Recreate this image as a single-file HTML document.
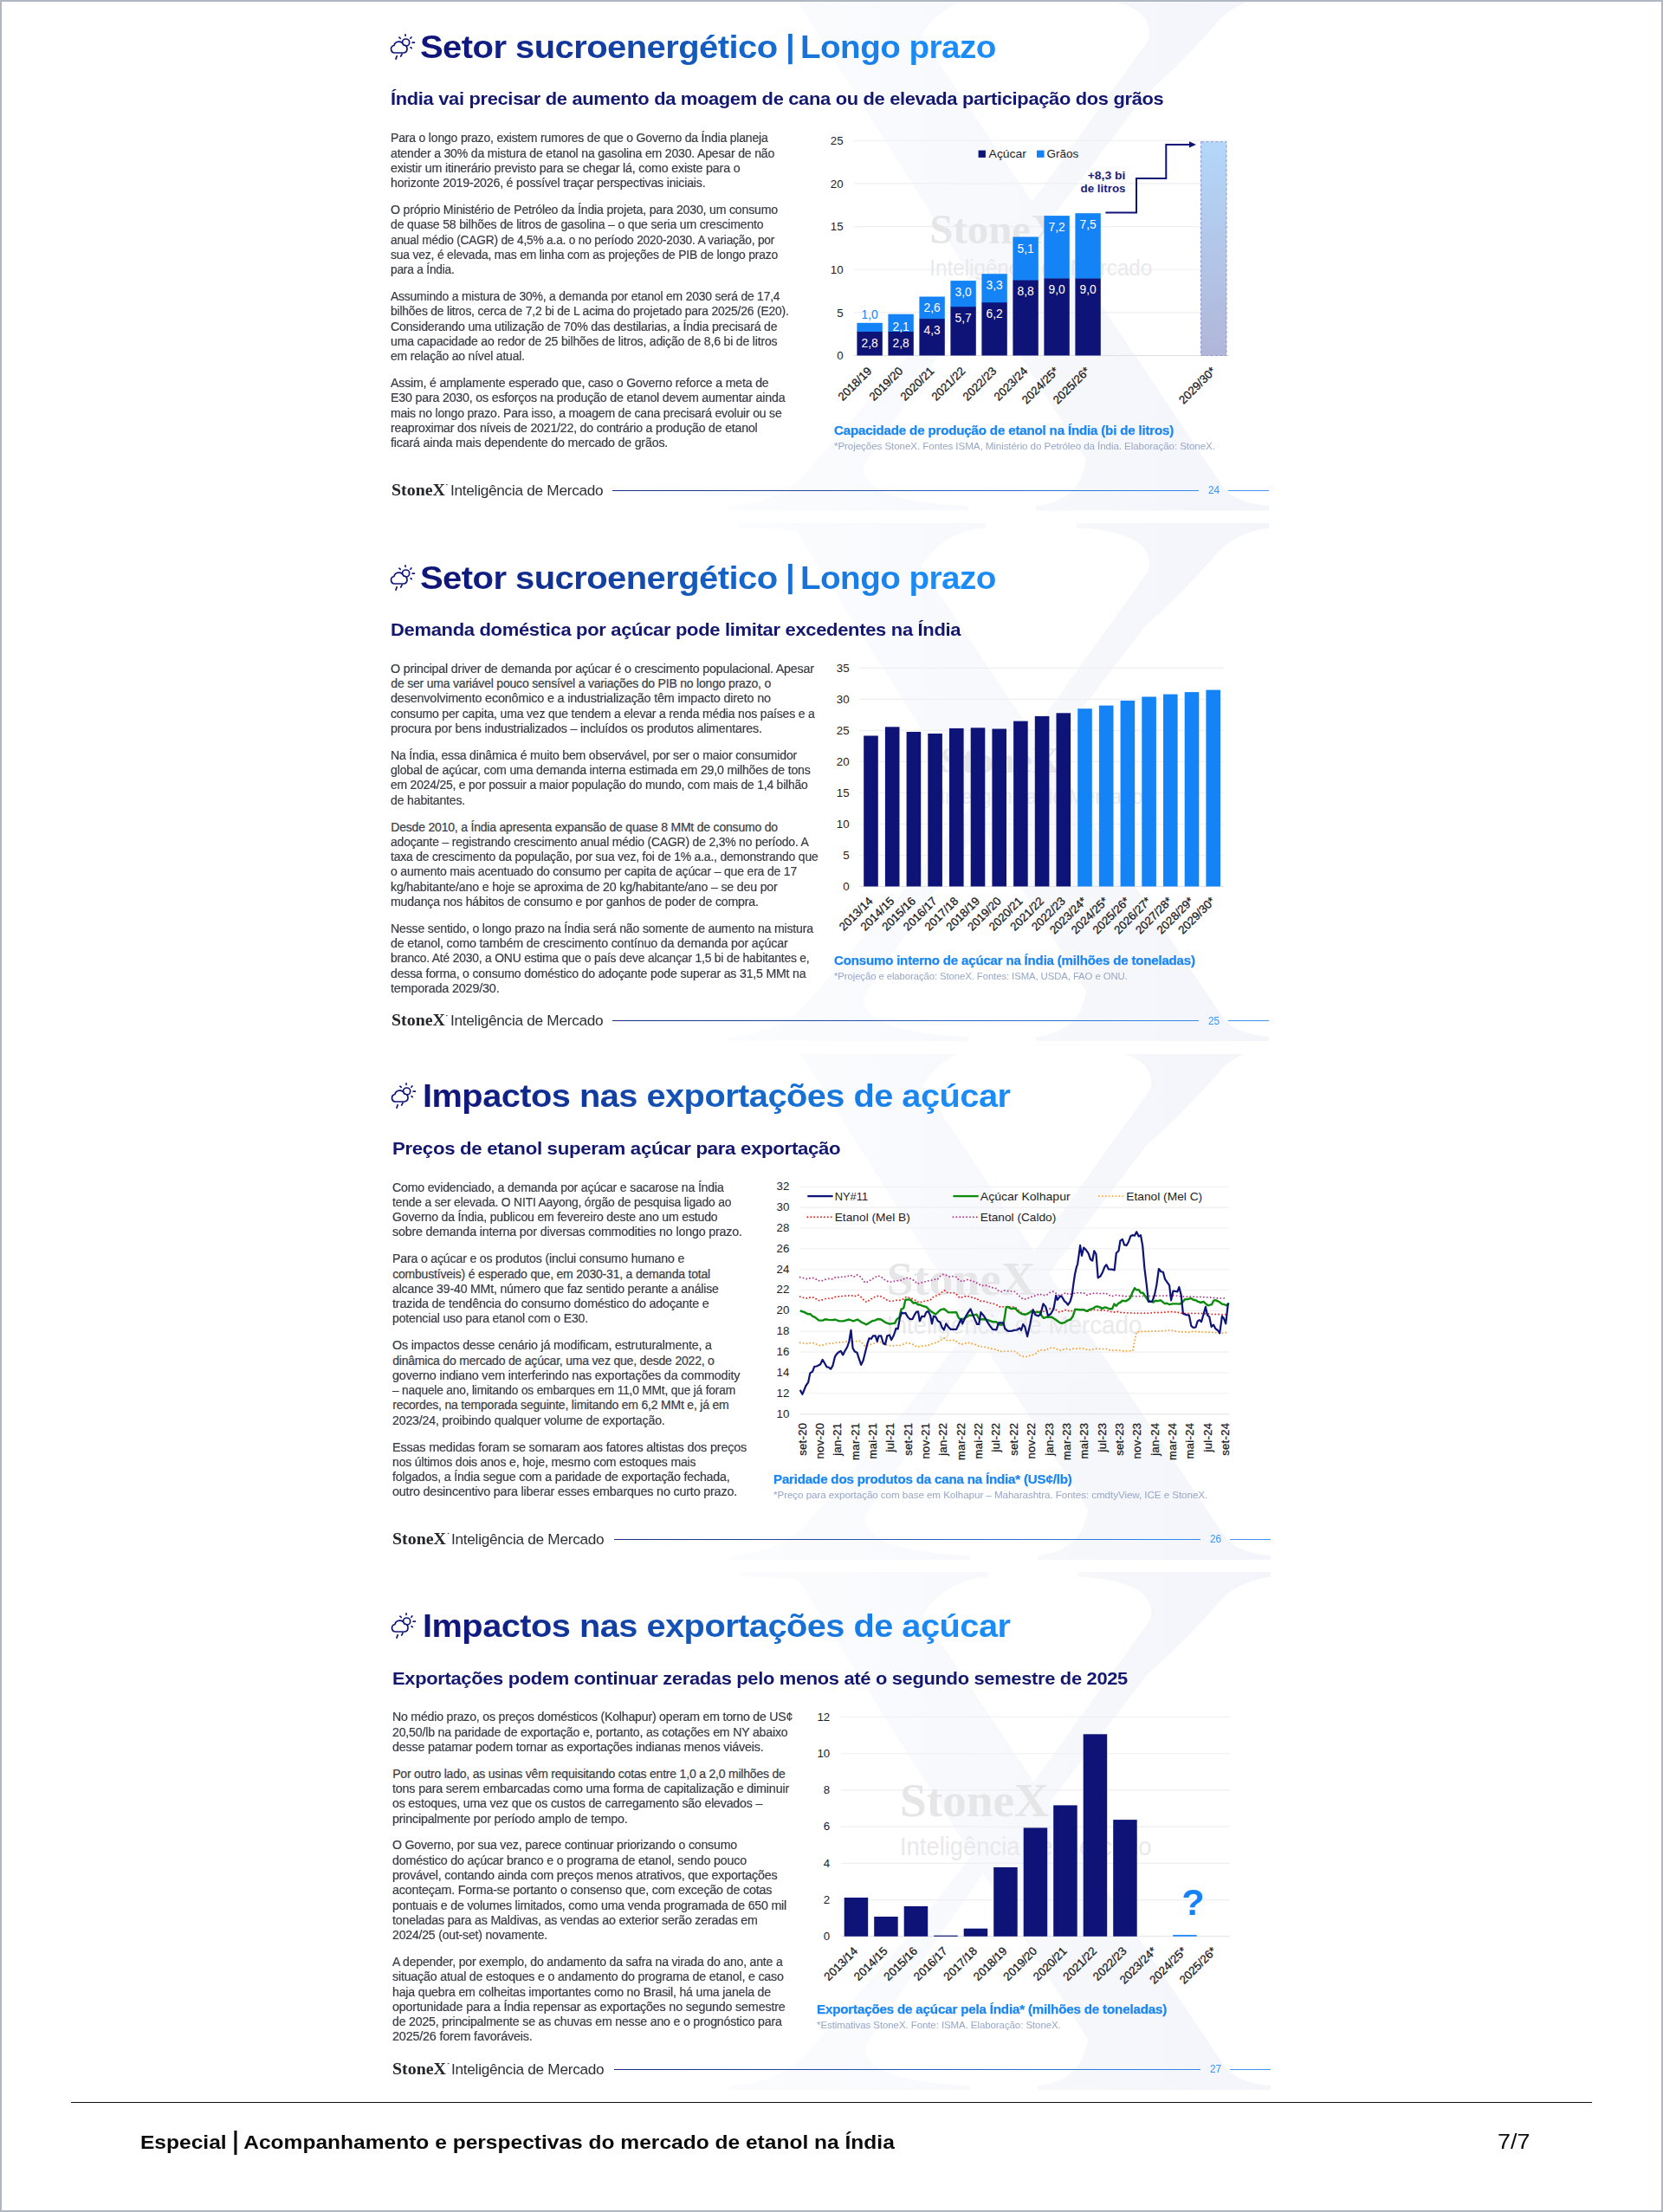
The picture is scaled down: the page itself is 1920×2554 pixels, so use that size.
<!DOCTYPE html>
<html lang="pt-BR"><head><meta charset="utf-8"><title>Especial | Acompanhamento e perspectivas do mercado de etanol na Índia</title>
<style>
html,body{margin:0;padding:0;background:#fff}
body{width:1920px;height:2554px;position:relative;overflow:hidden;font-family:"Liberation Sans",sans-serif}
#frame{position:absolute;left:0;top:0;width:1916px;height:2550px;border:2px solid #b0b7c3;pointer-events:none;z-index:5}
.abs{position:absolute}
.slide{position:absolute;overflow:hidden;background:#fff}
.inner{position:absolute;left:0;width:1064px;height:598.5px}
.t{position:absolute;white-space:nowrap;margin:0}
</style></head><body>
<div class="slide" style="left:401px;top:2px;width:1064px;height:588.2px"><div class="inner" style="top:-10.6px"><svg class="abs" style="left:0;top:0" width="1064" height="598.5" viewBox="0 0 1064 598.5">
<defs><linearGradient id="xg1" gradientUnits="userSpaceOnUse" x1="450" y1="0" x2="1064" y2="0"><stop offset="0" stop-color="#fbfcfe"/><stop offset="1" stop-color="#f4f5fa"/></linearGradient></defs>
<path fill="url(#xg1)" d="M452 0H738V5.5Q690 8 662 50L1009 568Q1022 590 1064 593V598.5H795V593Q846 588 853 540L519 10Q512 6 452 5.5ZM842 0H1064V5.5Q1020 12 1000 40Q960 85 921 119L800 278L780 250L789.8 243.3L925 55Q935 10 842 5.5ZM750 340L732 348.5L682 420L596 547Q592 588 717 593V598.5H440V593Q505 590 536 547L646 420L719 327Z"/></svg>
<svg class="abs" style="left:48.5px;top:46.6px" width="31" height="33" viewBox="0 0 31 33" fill="none" stroke="#0e1477" stroke-width="1.7" stroke-linecap="round" stroke-linejoin="round">
<circle cx="18.6" cy="11.1" r="4.1"/>
<path d="M18.05 1.9V3.3M10.9 5.2l1.4 1.1M24.9 5l-1 1.2M26.2 11.2h2.2M24.1 16.7l1.1 1"/>
<path d="M5.8 23a4.3 4.3 0 0 1-.9-8.5a5.7 5.7 0 0 1 10.9-.6a4.6 4.6 0 0 1 .5 9.1z" fill="#fff"/>
<path d="M8.2 26.7l-1.2 3.4M14.1 24.4l-1.4 2.7"/>
</svg>
<div class="t" style="left:84.20px;top:40.65px;font-size:37.0px;line-height:46.25px;color:#3b3e46;font-weight:700;letter-spacing:-0.5px;transform:scaleX(1.0796);transform-origin:0 0;background:linear-gradient(90deg,#10167a 0.0%,#10167a 0.4%,#10167a 10.0%,#1565c8 88.6%,#166dd2 100.0%);-webkit-background-clip:text;background-clip:text;color:transparent;-webkit-text-fill-color:transparent;">Setor sucroenergético</div>
<div class="t" style="left:506.30px;top:39.15px;font-size:37.0px;line-height:46.25px;color:#3b3e46;font-weight:700;letter-spacing:-0.5px;background:linear-gradient(90deg,#176fd4 0.0%,#1770d5 100.0%);-webkit-background-clip:text;background-clip:text;color:transparent;-webkit-text-fill-color:transparent;">|</div>
<div class="t" style="left:523.20px;top:40.65px;font-size:37.0px;line-height:46.25px;color:#3b3e46;font-weight:700;letter-spacing:-0.5px;transform:scaleX(1.0435);transform-origin:0 0;background:linear-gradient(90deg,#1772d7 0.0%,#1b8cf6 64.2%,#1b8cf6 99.3%,#1b8cf6 100.0%);-webkit-background-clip:text;background-clip:text;color:transparent;-webkit-text-fill-color:transparent;">Longo prazo</div>
<div class="t" style="left:50.20px;top:110.98px;font-size:20.4px;line-height:25.5px;color:#13186e;font-weight:700;letter-spacing:-0.3px;transform:scaleX(1.0733);transform-origin:0 0;">Índia vai precisar de aumento da moagem de cana ou de elevada participação dos grãos</div>
<svg class="abs" style="left:0;top:0" width="1064" height="598.5" viewBox="0 0 1064 598.5" font-family="Liberation Sans, sans-serif"><path d="M584.5 419.5H1017.9" stroke="#e0e0e4" stroke-width="1.1"/><path d="M584.5 369.9H1017.9" stroke="#efeff2" stroke-width="1.1"/><path d="M584.5 320.2H1017.9" stroke="#efeff2" stroke-width="1.1"/><path d="M584.5 270.6H1017.9" stroke="#efeff2" stroke-width="1.1"/><path d="M584.5 220.9H1017.9" stroke="#efeff2" stroke-width="1.1"/><path d="M584.5 171.2H1017.9" stroke="#efeff2" stroke-width="1.1"/><text x="672.3" y="290.0" font-family="Liberation Serif, serif" font-weight="700" font-size="47.5" fill="#e6e6e9" textLength="152" lengthAdjust="spacingAndGlyphs">StoneX</text><text x="672.3" y="327.2" font-size="25.4" fill="#e9e9ec" textLength="257" lengthAdjust="spacingAndGlyphs">Inteligência de Mercado</text><rect x="588.4" y="391.7" width="29.4" height="27.8" fill="#0e1477"/><rect x="588.4" y="381.8" width="29.4" height="10.2" fill="#1383f5"/><text x="603.1" y="410.0" font-size="13.8" fill="#fff" text-anchor="middle">2,8</text><text x="603.1" y="376.6" font-size="13.8" fill="#1383f5" text-anchor="middle">1,0</text><text transform="translate(606.2 438.3) rotate(-45)" font-size="13.4" fill="#1c1c1e" stroke="#1c1c1e" stroke-width="0.28" text-anchor="end">2018/19</text><rect x="624.4" y="391.7" width="29.4" height="27.8" fill="#0e1477"/><rect x="624.4" y="371.7" width="29.4" height="20.3" fill="#1383f5"/><text x="639.1" y="410.0" font-size="13.8" fill="#fff" text-anchor="middle">2,8</text><text x="639.1" y="390.9" font-size="13.8" fill="#fff" text-anchor="middle">2,1</text><text transform="translate(642.2 438.3) rotate(-45)" font-size="13.4" fill="#1c1c1e" stroke="#1c1c1e" stroke-width="0.28" text-anchor="end">2019/20</text><rect x="660.4" y="376.8" width="29.4" height="42.7" fill="#0e1477"/><rect x="660.4" y="351.5" width="29.4" height="25.6" fill="#1383f5"/><text x="675.1" y="395.1" font-size="13.8" fill="#fff" text-anchor="middle">4,3</text><text x="675.1" y="369.1" font-size="13.8" fill="#fff" text-anchor="middle">2,6</text><text transform="translate(678.2 438.3) rotate(-45)" font-size="13.4" fill="#1c1c1e" stroke="#1c1c1e" stroke-width="0.28" text-anchor="end">2020/21</text><rect x="696.4" y="362.9" width="29.4" height="56.6" fill="#0e1477"/><rect x="696.4" y="333.1" width="29.4" height="30.1" fill="#1383f5"/><text x="711.1" y="381.2" font-size="13.8" fill="#fff" text-anchor="middle">5,7</text><text x="711.1" y="350.7" font-size="13.8" fill="#fff" text-anchor="middle">3,0</text><text transform="translate(714.2 438.3) rotate(-45)" font-size="13.4" fill="#1c1c1e" stroke="#1c1c1e" stroke-width="0.28" text-anchor="end">2021/22</text><rect x="732.4" y="357.9" width="29.4" height="61.6" fill="#0e1477"/><rect x="732.4" y="325.2" width="29.4" height="33.1" fill="#1383f5"/><text x="747.1" y="376.2" font-size="13.8" fill="#fff" text-anchor="middle">6,2</text><text x="747.1" y="342.8" font-size="13.8" fill="#fff" text-anchor="middle">3,3</text><text transform="translate(750.2 438.3) rotate(-45)" font-size="13.4" fill="#1c1c1e" stroke="#1c1c1e" stroke-width="0.28" text-anchor="end">2022/23</text><rect x="768.4" y="332.1" width="29.4" height="87.4" fill="#0e1477"/><rect x="768.4" y="282.5" width="29.4" height="49.9" fill="#1383f5"/><text x="783.1" y="350.4" font-size="13.8" fill="#fff" text-anchor="middle">8,8</text><text x="783.1" y="301.4" font-size="13.8" fill="#fff" text-anchor="middle">5,1</text><text transform="translate(786.2 438.3) rotate(-45)" font-size="13.4" fill="#1c1c1e" stroke="#1c1c1e" stroke-width="0.28" text-anchor="end">2023/24</text><rect x="804.4" y="330.1" width="29.4" height="89.4" fill="#0e1477"/><rect x="804.4" y="258.1" width="29.4" height="72.3" fill="#1383f5"/><text x="819.1" y="348.4" font-size="13.8" fill="#fff" text-anchor="middle">9,0</text><text x="819.1" y="275.7" font-size="13.8" fill="#fff" text-anchor="middle">7,2</text><text transform="translate(822.2 438.3) rotate(-45)" font-size="13.4" fill="#1c1c1e" stroke="#1c1c1e" stroke-width="0.28" text-anchor="end">2024/25*</text><rect x="840.4" y="330.1" width="29.4" height="89.4" fill="#0e1477"/><rect x="840.4" y="255.2" width="29.4" height="75.3" fill="#1383f5"/><text x="855.1" y="348.4" font-size="13.8" fill="#fff" text-anchor="middle">9,0</text><text x="855.1" y="272.8" font-size="13.8" fill="#fff" text-anchor="middle">7,5</text><text transform="translate(858.2 438.3) rotate(-45)" font-size="13.4" fill="#1c1c1e" stroke="#1c1c1e" stroke-width="0.28" text-anchor="end">2025/26*</text><defs><linearGradient id="pg" x1="0" y1="0" x2="0" y2="1"><stop offset="0" stop-color="#b3d7fa"/><stop offset="1" stop-color="#b1b6d9"/></linearGradient></defs><rect x="985.6" y="172.7" width="29.4" height="246.8" fill="url(#pg)" stroke="#8a9bd6" stroke-width="1" stroke-dasharray="3.5 2"/><text transform="translate(1003.4 438.3) rotate(-45)" font-size="13.4" fill="#1c1c1e" stroke="#1c1c1e" stroke-width="0.28" text-anchor="end">2029/30*</text><text x="572.6" y="424.3" font-size="13.3" fill="#1c1c1e" text-anchor="end">0</text><text x="572.6" y="374.6" font-size="13.3" fill="#1c1c1e" text-anchor="end">5</text><text x="572.6" y="325.0" font-size="13.3" fill="#1c1c1e" text-anchor="end">10</text><text x="572.6" y="275.3" font-size="13.3" fill="#1c1c1e" text-anchor="end">15</text><text x="572.6" y="225.7" font-size="13.3" fill="#1c1c1e" text-anchor="end">20</text><text x="572.6" y="176.0" font-size="13.3" fill="#1c1c1e" text-anchor="end">25</text><rect x="728.6" y="182.6" width="8.3" height="8.3" fill="#0e1477"/><text x="740.6" y="190.9" font-size="13" fill="#1c1c1e" textLength="43.4" lengthAdjust="spacingAndGlyphs">Açúcar</text><rect x="796" y="182.6" width="8.6" height="8.3" fill="#1383f5"/><text x="807.5" y="190.9" font-size="13" fill="#1c1c1e" textLength="36.8" lengthAdjust="spacingAndGlyphs">Grãos</text><text x="898.5" y="215.9" font-size="13" font-weight="700" fill="#1a1c7c" text-anchor="end" textLength="43.8" lengthAdjust="spacingAndGlyphs">+8,3 bi</text><text x="898.5" y="231.3" font-size="13" font-weight="700" fill="#1a1c7c" text-anchor="end" textLength="52" lengthAdjust="spacingAndGlyphs">de litros</text><path d="M875.4 254.4H911V215H945.3V175.9H973" fill="none" stroke="#0e1477" stroke-width="2"/><path d="M980 175.9l-8-3.6v7.2z" fill="#0e1477"/></svg>
<div class="t" style="left:50.30px;top:159.90px;font-size:14.0px;line-height:17.5px;color:#3b3e46;letter-spacing:-0.2px;transform:scaleX(1.0026);transform-origin:0 0;-webkit-text-stroke:0.22px #3b3e46;">Para o longo prazo, existem rumores de que o Governo da Índia planeja</div>
<div class="t" style="left:50.30px;top:177.20px;font-size:14.0px;line-height:17.5px;color:#3b3e46;letter-spacing:-0.2px;transform:scaleX(1.0071);transform-origin:0 0;-webkit-text-stroke:0.22px #3b3e46;">atender a 30% da mistura de etanol na gasolina em 2030. Apesar de não</div>
<div class="t" style="left:50.30px;top:194.50px;font-size:14.0px;line-height:17.5px;color:#3b3e46;letter-spacing:-0.2px;transform:scaleX(1.0215);transform-origin:0 0;-webkit-text-stroke:0.22px #3b3e46;">existir um itinerário previsto para se chegar lá, como existe para o</div>
<div class="t" style="left:50.30px;top:211.80px;font-size:14.0px;line-height:17.5px;color:#3b3e46;letter-spacing:-0.2px;transform:scaleX(1.0122);transform-origin:0 0;-webkit-text-stroke:0.22px #3b3e46;">horizonte 2019-2026, é possível traçar perspectivas iniciais.</div>
<div class="t" style="left:50.30px;top:242.60px;font-size:14.0px;line-height:17.5px;color:#3b3e46;letter-spacing:-0.2px;transform:scaleX(1.0103);transform-origin:0 0;-webkit-text-stroke:0.22px #3b3e46;">O próprio Ministério de Petróleo da Índia projeta, para 2030, um consumo</div>
<div class="t" style="left:50.30px;top:259.90px;font-size:14.0px;line-height:17.5px;color:#3b3e46;letter-spacing:-0.2px;transform:scaleX(1.0075);transform-origin:0 0;-webkit-text-stroke:0.22px #3b3e46;">de quase 58 bilhões de litros de gasolina – o que seria um crescimento</div>
<div class="t" style="left:50.30px;top:277.20px;font-size:14.0px;line-height:17.5px;color:#3b3e46;letter-spacing:-0.2px;transform:scaleX(0.9804);transform-origin:0 0;-webkit-text-stroke:0.22px #3b3e46;">anual médio (CAGR) de 4,5% a.a. o no período 2020-2030. A variação, por</div>
<div class="t" style="left:50.30px;top:294.50px;font-size:14.0px;line-height:17.5px;color:#3b3e46;letter-spacing:-0.2px;transform:scaleX(0.9942);transform-origin:0 0;-webkit-text-stroke:0.22px #3b3e46;">sua vez, é elevada, mas em linha com as projeções de PIB de longo prazo</div>
<div class="t" style="left:50.30px;top:311.80px;font-size:14.0px;line-height:17.5px;color:#3b3e46;letter-spacing:-0.2px;transform:scaleX(0.9783);transform-origin:0 0;-webkit-text-stroke:0.22px #3b3e46;">para a Índia.</div>
<div class="t" style="left:50.30px;top:342.60px;font-size:14.0px;line-height:17.5px;color:#3b3e46;letter-spacing:-0.2px;transform:scaleX(0.9934);transform-origin:0 0;-webkit-text-stroke:0.22px #3b3e46;">Assumindo a mistura de 30%, a demanda por etanol em 2030 será de 17,4</div>
<div class="t" style="left:50.30px;top:359.90px;font-size:14.0px;line-height:17.5px;color:#3b3e46;letter-spacing:-0.2px;transform:scaleX(0.9920);transform-origin:0 0;-webkit-text-stroke:0.22px #3b3e46;">bilhões de litros, cerca de 7,2 bi de L acima do projetado para 2025/26 (E20).</div>
<div class="t" style="left:50.30px;top:377.20px;font-size:14.0px;line-height:17.5px;color:#3b3e46;letter-spacing:-0.2px;transform:scaleX(1.0107);transform-origin:0 0;-webkit-text-stroke:0.22px #3b3e46;">Considerando uma utilização de 70% das destilarias, a Índia precisará de</div>
<div class="t" style="left:50.30px;top:394.50px;font-size:14.0px;line-height:17.5px;color:#3b3e46;letter-spacing:-0.2px;transform:scaleX(1.0067);transform-origin:0 0;-webkit-text-stroke:0.22px #3b3e46;">uma capacidade ao redor de 25 bilhões de litros, adição de 8,6 bi de litros</div>
<div class="t" style="left:50.30px;top:411.80px;font-size:14.0px;line-height:17.5px;color:#3b3e46;letter-spacing:-0.2px;transform:scaleX(0.9979);transform-origin:0 0;-webkit-text-stroke:0.22px #3b3e46;">em relação ao nível atual.</div>
<div class="t" style="left:50.30px;top:442.60px;font-size:14.0px;line-height:17.5px;color:#3b3e46;letter-spacing:-0.2px;transform:scaleX(1.0124);transform-origin:0 0;-webkit-text-stroke:0.22px #3b3e46;">Assim, é amplamente esperado que, caso o Governo reforce a meta de</div>
<div class="t" style="left:50.30px;top:459.90px;font-size:14.0px;line-height:17.5px;color:#3b3e46;letter-spacing:-0.2px;transform:scaleX(1.0171);transform-origin:0 0;-webkit-text-stroke:0.22px #3b3e46;">E30 para 2030, os esforços na produção de etanol devem aumentar ainda</div>
<div class="t" style="left:50.30px;top:477.20px;font-size:14.0px;line-height:17.5px;color:#3b3e46;letter-spacing:-0.2px;transform:scaleX(1.0029);transform-origin:0 0;-webkit-text-stroke:0.22px #3b3e46;">mais no longo prazo. Para isso, a moagem de cana precisará evoluir ou se</div>
<div class="t" style="left:50.30px;top:494.50px;font-size:14.0px;line-height:17.5px;color:#3b3e46;letter-spacing:-0.2px;transform:scaleX(1.0104);transform-origin:0 0;-webkit-text-stroke:0.22px #3b3e46;">reaproximar dos níveis de 2021/22, do contrário a produção de etanol</div>
<div class="t" style="left:50.30px;top:511.80px;font-size:14.0px;line-height:17.5px;color:#3b3e46;letter-spacing:-0.2px;transform:scaleX(1.0195);transform-origin:0 0;-webkit-text-stroke:0.22px #3b3e46;">ficará ainda mais dependente do mercado de grãos.</div>
<div class="t" style="left:561.80px;top:496.12px;font-size:14.8px;line-height:18.5px;color:#1c86f2;font-weight:700;letter-spacing:-0.2px;transform:scaleX(1.0250);transform-origin:0 0;-webkit-text-stroke:0.25px #1c86f2;">Capacidade de produção de etanol na Índia (bi de litros)</div>
<div class="t" style="left:561.80px;top:517.11px;font-size:10.9px;line-height:13.62px;color:#97a6c6;letter-spacing:-0.1px;transform:scaleX(1.0700);transform-origin:0 0;">*Projeções StoneX. Fontes ISMA, Ministério do Petróleo da Índia. Elaboração: StoneX.</div>
<div class="abs" style="left:306.4px;top:574.4px;width:676.5px;height:1px;background:linear-gradient(90deg,#1b2a86,#2f8cf0)"></div>
<div class="abs" style="left:1017.4px;top:574.4px;width:46.6px;height:1px;background:#3f95f0"></div>
<div class="t" style="left:50.60px;top:562.24px;font-size:19.6px;line-height:24.5px;color:#25262b;font-weight:700;font-family:'Liberation Serif',serif;transform:scaleX(1.0169);transform-origin:0 0;">StoneX</div>
<div class="t" style="left:113.20px;top:562.84px;font-size:9px;line-height:11.25px;color:#25262b;font-weight:700;font-family:'Liberation Serif',serif;">·</div>
<div class="t" style="left:118.70px;top:564.39px;font-size:17.2px;line-height:21.5px;color:#2e3036;letter-spacing:-0.3px;transform:scaleX(1.0046);transform-origin:0 0;">Inteligência de Mercado</div>
<div class="t" style="left:994.30px;top:567.66px;font-size:12.6px;line-height:15.75px;color:#3a92f2;transform:scaleX(0.9418);transform-origin:0 0;">24</div></div></div>
<div class="slide" style="left:401px;top:603.8px;width:1064px;height:598.7px"><div class="inner" style="top:0.2px"><svg class="abs" style="left:0;top:0" width="1064" height="598.5" viewBox="0 0 1064 598.5">
<defs><linearGradient id="xg2" gradientUnits="userSpaceOnUse" x1="450" y1="0" x2="1064" y2="0"><stop offset="0" stop-color="#fbfcfe"/><stop offset="1" stop-color="#f4f5fa"/></linearGradient></defs>
<path fill="url(#xg2)" d="M452 0H738V5.5Q690 8 662 50L1009 568Q1022 590 1064 593V598.5H795V593Q846 588 853 540L519 10Q512 6 452 5.5ZM842 0H1064V5.5Q1020 12 1000 40Q960 85 921 119L800 278L780 250L789.8 243.3L925 55Q935 10 842 5.5ZM750 340L732 348.5L682 420L596 547Q592 588 717 593V598.5H440V593Q505 590 536 547L646 420L719 327Z"/></svg>
<svg class="abs" style="left:48.5px;top:46.6px" width="31" height="33" viewBox="0 0 31 33" fill="none" stroke="#0e1477" stroke-width="1.7" stroke-linecap="round" stroke-linejoin="round">
<circle cx="18.6" cy="11.1" r="4.1"/>
<path d="M18.05 1.9V3.3M10.9 5.2l1.4 1.1M24.9 5l-1 1.2M26.2 11.2h2.2M24.1 16.7l1.1 1"/>
<path d="M5.8 23a4.3 4.3 0 0 1-.9-8.5a5.7 5.7 0 0 1 10.9-.6a4.6 4.6 0 0 1 .5 9.1z" fill="#fff"/>
<path d="M8.2 26.7l-1.2 3.4M14.1 24.4l-1.4 2.7"/>
</svg>
<div class="t" style="left:84.20px;top:40.65px;font-size:37.0px;line-height:46.25px;color:#3b3e46;font-weight:700;letter-spacing:-0.5px;transform:scaleX(1.0796);transform-origin:0 0;background:linear-gradient(90deg,#10167a 0.0%,#10167a 0.4%,#10167a 10.0%,#1565c8 88.6%,#166dd2 100.0%);-webkit-background-clip:text;background-clip:text;color:transparent;-webkit-text-fill-color:transparent;">Setor sucroenergético</div>
<div class="t" style="left:506.30px;top:39.15px;font-size:37.0px;line-height:46.25px;color:#3b3e46;font-weight:700;letter-spacing:-0.5px;background:linear-gradient(90deg,#176fd4 0.0%,#1770d5 100.0%);-webkit-background-clip:text;background-clip:text;color:transparent;-webkit-text-fill-color:transparent;">|</div>
<div class="t" style="left:523.20px;top:40.65px;font-size:37.0px;line-height:46.25px;color:#3b3e46;font-weight:700;letter-spacing:-0.5px;transform:scaleX(1.0435);transform-origin:0 0;background:linear-gradient(90deg,#1772d7 0.0%,#1b8cf6 64.2%,#1b8cf6 99.3%,#1b8cf6 100.0%);-webkit-background-clip:text;background-clip:text;color:transparent;-webkit-text-fill-color:transparent;">Longo prazo</div>
<div class="t" style="left:50.20px;top:110.98px;font-size:20.4px;line-height:25.5px;color:#13186e;font-weight:700;letter-spacing:-0.3px;transform:scaleX(1.0780);transform-origin:0 0;">Demanda doméstica por açúcar pode limitar excedentes na Índia</div>
<svg class="abs" style="left:0;top:0" width="1064" height="598.5" viewBox="0 0 1064 598.5" font-family="Liberation Sans, sans-serif"><path d="M591.4 419.5H1012" stroke="#e0e0e4" stroke-width="1.1"/><path d="M591.4 383.5H1012" stroke="#efeff2" stroke-width="1.1"/><path d="M591.4 347.5H1012" stroke="#efeff2" stroke-width="1.1"/><path d="M591.4 311.5H1012" stroke="#efeff2" stroke-width="1.1"/><path d="M591.4 275.4H1012" stroke="#efeff2" stroke-width="1.1"/><path d="M591.4 239.4H1012" stroke="#efeff2" stroke-width="1.1"/><path d="M591.4 203.4H1012" stroke="#efeff2" stroke-width="1.1"/><path d="M591.4 167.4H1012" stroke="#efeff2" stroke-width="1.1"/><text x="684.4" y="287.8" font-family="Liberation Serif, serif" font-weight="700" font-size="43.2" fill="#e6e6e9" textLength="138.4" lengthAdjust="spacingAndGlyphs">StoneX</text><text x="684.4" y="323.7" font-size="23.1" fill="#e9e9ec" textLength="234" lengthAdjust="spacingAndGlyphs">Inteligência de Mercado</text><rect x="596.2" y="245.5" width="16.6" height="174.0" fill="#0e1477"/><text transform="translate(607.5 437.3) rotate(-45)" font-size="13.4" fill="#1c1c1e" stroke="#1c1c1e" stroke-width="0.28" text-anchor="end">2013/14</text><rect x="620.9" y="235.3" width="16.6" height="184.2" fill="#0e1477"/><text transform="translate(632.2 437.3) rotate(-45)" font-size="13.4" fill="#1c1c1e" stroke="#1c1c1e" stroke-width="0.28" text-anchor="end">2014/15</text><rect x="645.6" y="241.0" width="16.6" height="178.5" fill="#0e1477"/><text transform="translate(656.9 437.3) rotate(-45)" font-size="13.4" fill="#1c1c1e" stroke="#1c1c1e" stroke-width="0.28" text-anchor="end">2015/16</text><rect x="670.3" y="243.0" width="16.6" height="176.5" fill="#0e1477"/><text transform="translate(681.6 437.3) rotate(-45)" font-size="13.4" fill="#1c1c1e" stroke="#1c1c1e" stroke-width="0.28" text-anchor="end">2016/17</text><rect x="695.0" y="236.9" width="16.6" height="182.6" fill="#0e1477"/><text transform="translate(706.3 437.3) rotate(-45)" font-size="13.4" fill="#1c1c1e" stroke="#1c1c1e" stroke-width="0.28" text-anchor="end">2017/18</text><rect x="719.7" y="236.3" width="16.6" height="183.2" fill="#0e1477"/><text transform="translate(731.0 437.3) rotate(-45)" font-size="13.4" fill="#1c1c1e" stroke="#1c1c1e" stroke-width="0.28" text-anchor="end">2018/19</text><rect x="744.4" y="237.5" width="16.6" height="182.0" fill="#0e1477"/><text transform="translate(755.7 437.3) rotate(-45)" font-size="13.4" fill="#1c1c1e" stroke="#1c1c1e" stroke-width="0.28" text-anchor="end">2019/20</text><rect x="769.1" y="228.6" width="16.6" height="190.9" fill="#0e1477"/><text transform="translate(780.4 437.3) rotate(-45)" font-size="13.4" fill="#1c1c1e" stroke="#1c1c1e" stroke-width="0.28" text-anchor="end">2020/21</text><rect x="793.8" y="222.9" width="16.6" height="196.6" fill="#0e1477"/><text transform="translate(805.1 437.3) rotate(-45)" font-size="13.4" fill="#1c1c1e" stroke="#1c1c1e" stroke-width="0.28" text-anchor="end">2021/22</text><rect x="818.5" y="219.3" width="16.6" height="200.2" fill="#0e1477"/><text transform="translate(829.8 437.3) rotate(-45)" font-size="13.4" fill="#1c1c1e" stroke="#1c1c1e" stroke-width="0.28" text-anchor="end">2022/23</text><rect x="843.2" y="214.2" width="16.6" height="205.3" fill="#1383f5"/><text transform="translate(854.5 437.3) rotate(-45)" font-size="13.4" fill="#1c1c1e" stroke="#1c1c1e" stroke-width="0.28" text-anchor="end">2023/24*</text><rect x="867.9" y="210.6" width="16.6" height="208.9" fill="#1383f5"/><text transform="translate(879.2 437.3) rotate(-45)" font-size="13.4" fill="#1c1c1e" stroke="#1c1c1e" stroke-width="0.28" text-anchor="end">2024/25*</text><rect x="892.6" y="204.9" width="16.6" height="214.6" fill="#1383f5"/><text transform="translate(903.9 437.3) rotate(-45)" font-size="13.4" fill="#1c1c1e" stroke="#1c1c1e" stroke-width="0.28" text-anchor="end">2025/26*</text><rect x="917.3" y="200.5" width="16.6" height="219.0" fill="#1383f5"/><text transform="translate(928.6 437.3) rotate(-45)" font-size="13.4" fill="#1c1c1e" stroke="#1c1c1e" stroke-width="0.28" text-anchor="end">2026/27*</text><rect x="942.0" y="197.6" width="16.6" height="221.9" fill="#1383f5"/><text transform="translate(953.3 437.3) rotate(-45)" font-size="13.4" fill="#1c1c1e" stroke="#1c1c1e" stroke-width="0.28" text-anchor="end">2027/28*</text><rect x="966.7" y="195.1" width="16.6" height="224.4" fill="#1383f5"/><text transform="translate(978.0 437.3) rotate(-45)" font-size="13.4" fill="#1c1c1e" stroke="#1c1c1e" stroke-width="0.28" text-anchor="end">2028/29*</text><rect x="991.4" y="192.6" width="16.6" height="226.9" fill="#1383f5"/><text transform="translate(1002.7 437.3) rotate(-45)" font-size="13.4" fill="#1c1c1e" stroke="#1c1c1e" stroke-width="0.28" text-anchor="end">2029/30*</text><text x="579.6" y="424.3" font-size="13.3" fill="#1c1c1e" text-anchor="end">0</text><text x="579.6" y="388.3" font-size="13.3" fill="#1c1c1e" text-anchor="end">5</text><text x="579.6" y="352.3" font-size="13.3" fill="#1c1c1e" text-anchor="end">10</text><text x="579.6" y="316.2" font-size="13.3" fill="#1c1c1e" text-anchor="end">15</text><text x="579.6" y="280.2" font-size="13.3" fill="#1c1c1e" text-anchor="end">20</text><text x="579.6" y="244.2" font-size="13.3" fill="#1c1c1e" text-anchor="end">25</text><text x="579.6" y="208.2" font-size="13.3" fill="#1c1c1e" text-anchor="end">30</text><text x="579.6" y="172.2" font-size="13.3" fill="#1c1c1e" text-anchor="end">35</text></svg>
<div class="t" style="left:50.30px;top:159.90px;font-size:14.0px;line-height:17.5px;color:#3b3e46;letter-spacing:-0.2px;transform:scaleX(1.0210);transform-origin:0 0;-webkit-text-stroke:0.22px #3b3e46;">O principal driver de demanda por açúcar é o crescimento populacional. Apesar</div>
<div class="t" style="left:50.30px;top:177.20px;font-size:14.0px;line-height:17.5px;color:#3b3e46;letter-spacing:-0.2px;-webkit-text-stroke:0.22px #3b3e46;">de ser uma variável pouco sensível a variações do PIB no longo prazo, o</div>
<div class="t" style="left:50.30px;top:194.50px;font-size:14.0px;line-height:17.5px;color:#3b3e46;letter-spacing:-0.2px;transform:scaleX(1.0317);transform-origin:0 0;-webkit-text-stroke:0.22px #3b3e46;">desenvolvimento econômico e a industrialização têm impacto direto no</div>
<div class="t" style="left:50.30px;top:211.80px;font-size:14.0px;line-height:17.5px;color:#3b3e46;letter-spacing:-0.2px;transform:scaleX(1.0044);transform-origin:0 0;-webkit-text-stroke:0.22px #3b3e46;">consumo per capita, uma vez que tendem a elevar a renda média nos países e a</div>
<div class="t" style="left:50.30px;top:229.10px;font-size:14.0px;line-height:17.5px;color:#3b3e46;letter-spacing:-0.2px;transform:scaleX(1.0203);transform-origin:0 0;-webkit-text-stroke:0.22px #3b3e46;">procura por bens industrializados – incluídos os produtos alimentares.</div>
<div class="t" style="left:50.30px;top:259.90px;font-size:14.0px;line-height:17.5px;color:#3b3e46;letter-spacing:-0.2px;transform:scaleX(1.0081);transform-origin:0 0;-webkit-text-stroke:0.22px #3b3e46;">Na Índia, essa dinâmica é muito bem observável, por ser o maior consumidor</div>
<div class="t" style="left:50.30px;top:277.20px;font-size:14.0px;line-height:17.5px;color:#3b3e46;letter-spacing:-0.2px;transform:scaleX(1.0127);transform-origin:0 0;-webkit-text-stroke:0.22px #3b3e46;">global de açúcar, com uma demanda interna estimada em 29,0 milhões de tons</div>
<div class="t" style="left:50.30px;top:294.50px;font-size:14.0px;line-height:17.5px;color:#3b3e46;letter-spacing:-0.2px;transform:scaleX(0.9941);transform-origin:0 0;-webkit-text-stroke:0.22px #3b3e46;">em 2024/25, e por possuir a maior população do mundo, com mais de 1,4 bilhão</div>
<div class="t" style="left:50.30px;top:311.80px;font-size:14.0px;line-height:17.5px;color:#3b3e46;letter-spacing:-0.2px;transform:scaleX(1.0109);transform-origin:0 0;-webkit-text-stroke:0.22px #3b3e46;">de habitantes.</div>
<div class="t" style="left:50.30px;top:342.60px;font-size:14.0px;line-height:17.5px;color:#3b3e46;letter-spacing:-0.2px;-webkit-text-stroke:0.22px #3b3e46;">Desde 2010, a Índia apresenta expansão de quase 8 MMt de consumo do</div>
<div class="t" style="left:50.30px;top:359.90px;font-size:14.0px;line-height:17.5px;color:#3b3e46;letter-spacing:-0.2px;transform:scaleX(0.9974);transform-origin:0 0;-webkit-text-stroke:0.22px #3b3e46;">adoçante – registrando crescimento anual médio (CAGR) de 2,3% no período. A</div>
<div class="t" style="left:50.30px;top:377.20px;font-size:14.0px;line-height:17.5px;color:#3b3e46;letter-spacing:-0.2px;transform:scaleX(0.9959);transform-origin:0 0;-webkit-text-stroke:0.22px #3b3e46;">taxa de crescimento da população, por sua vez, foi de 1% a.a., demonstrando que</div>
<div class="t" style="left:50.30px;top:394.50px;font-size:14.0px;line-height:17.5px;color:#3b3e46;letter-spacing:-0.2px;transform:scaleX(1.0037);transform-origin:0 0;-webkit-text-stroke:0.22px #3b3e46;">o aumento mais acentuado do consumo per capita de açúcar – que era de 17</div>
<div class="t" style="left:50.30px;top:411.80px;font-size:14.0px;line-height:17.5px;color:#3b3e46;letter-spacing:-0.2px;transform:scaleX(1.0160);transform-origin:0 0;-webkit-text-stroke:0.22px #3b3e46;">kg/habitante/ano e hoje se aproxima de 20 kg/habitante/ano – se deu por</div>
<div class="t" style="left:50.30px;top:429.10px;font-size:14.0px;line-height:17.5px;color:#3b3e46;letter-spacing:-0.2px;transform:scaleX(1.0127);transform-origin:0 0;-webkit-text-stroke:0.22px #3b3e46;">mudança nos hábitos de consumo e por ganhos de poder de compra.</div>
<div class="t" style="left:50.30px;top:459.90px;font-size:14.0px;line-height:17.5px;color:#3b3e46;letter-spacing:-0.2px;transform:scaleX(1.0104);transform-origin:0 0;-webkit-text-stroke:0.22px #3b3e46;">Nesse sentido, o longo prazo na Índia será não somente de aumento na mistura</div>
<div class="t" style="left:50.30px;top:477.20px;font-size:14.0px;line-height:17.5px;color:#3b3e46;letter-spacing:-0.2px;transform:scaleX(1.0219);transform-origin:0 0;-webkit-text-stroke:0.22px #3b3e46;">de etanol, como também de crescimento contínuo da demanda por açúcar</div>
<div class="t" style="left:50.30px;top:494.50px;font-size:14.0px;line-height:17.5px;color:#3b3e46;letter-spacing:-0.2px;transform:scaleX(0.9913);transform-origin:0 0;-webkit-text-stroke:0.22px #3b3e46;">branco. Até 2030, a ONU estima que o país deve alcançar 1,5 bi de habitantes e,</div>
<div class="t" style="left:50.30px;top:511.80px;font-size:14.0px;line-height:17.5px;color:#3b3e46;letter-spacing:-0.2px;transform:scaleX(1.0107);transform-origin:0 0;-webkit-text-stroke:0.22px #3b3e46;">dessa forma, o consumo doméstico do adoçante pode superar as 31,5 MMt na</div>
<div class="t" style="left:50.30px;top:529.10px;font-size:14.0px;line-height:17.5px;color:#3b3e46;letter-spacing:-0.2px;transform:scaleX(1.0310);transform-origin:0 0;-webkit-text-stroke:0.22px #3b3e46;">temporada 2029/30.</div>
<div class="t" style="left:561.70px;top:495.92px;font-size:14.8px;line-height:18.5px;color:#1c86f2;font-weight:700;letter-spacing:-0.2px;transform:scaleX(1.0197);transform-origin:0 0;-webkit-text-stroke:0.25px #1c86f2;">Consumo interno de açúcar na Índia (milhões de toneladas)</div>
<div class="t" style="left:561.70px;top:517.11px;font-size:10.9px;line-height:13.62px;color:#97a6c6;letter-spacing:-0.1px;transform:scaleX(1.0443);transform-origin:0 0;">*Projeção e elaboração: StoneX. Fontes: ISMA, USDA, FAO e ONU.</div>
<div class="abs" style="left:306.4px;top:574.4px;width:676.5px;height:1px;background:linear-gradient(90deg,#1b2a86,#2f8cf0)"></div>
<div class="abs" style="left:1017.4px;top:574.4px;width:46.6px;height:1px;background:#3f95f0"></div>
<div class="t" style="left:50.60px;top:562.24px;font-size:19.6px;line-height:24.5px;color:#25262b;font-weight:700;font-family:'Liberation Serif',serif;transform:scaleX(1.0169);transform-origin:0 0;">StoneX</div>
<div class="t" style="left:113.20px;top:562.84px;font-size:9px;line-height:11.25px;color:#25262b;font-weight:700;font-family:'Liberation Serif',serif;">·</div>
<div class="t" style="left:118.70px;top:564.39px;font-size:17.2px;line-height:21.5px;color:#2e3036;letter-spacing:-0.3px;transform:scaleX(1.0046);transform-origin:0 0;">Inteligência de Mercado</div>
<div class="t" style="left:994.30px;top:567.66px;font-size:12.6px;line-height:15.75px;color:#3a92f2;transform:scaleX(0.9418);transform-origin:0 0;">25</div></div></div>
<div class="slide" style="left:402.8px;top:1217.0px;width:1064px;height:584.0px"><div class="inner" style="top:-14.4px"><svg class="abs" style="left:0;top:0" width="1064" height="598.5" viewBox="0 0 1064 598.5">
<defs><linearGradient id="xg3" gradientUnits="userSpaceOnUse" x1="450" y1="0" x2="1064" y2="0"><stop offset="0" stop-color="#fbfcfe"/><stop offset="1" stop-color="#f4f5fa"/></linearGradient></defs>
<path fill="url(#xg3)" d="M452 0H738V5.5Q690 8 662 50L1009 568Q1022 590 1064 593V598.5H795V593Q846 588 853 540L519 10Q512 6 452 5.5ZM842 0H1064V5.5Q1020 12 1000 40Q960 85 921 119L800 278L780 250L789.8 243.3L925 55Q935 10 842 5.5ZM750 340L732 348.5L682 420L596 547Q592 588 717 593V598.5H440V593Q505 590 536 547L646 420L719 327Z"/></svg>
<svg class="abs" style="left:48.5px;top:46.6px" width="31" height="33" viewBox="0 0 31 33" fill="none" stroke="#0e1477" stroke-width="1.7" stroke-linecap="round" stroke-linejoin="round">
<circle cx="18.6" cy="11.1" r="4.1"/>
<path d="M18.05 1.9V3.3M10.9 5.2l1.4 1.1M24.9 5l-1 1.2M26.2 11.2h2.2M24.1 16.7l1.1 1"/>
<path d="M5.8 23a4.3 4.3 0 0 1-.9-8.5a5.7 5.7 0 0 1 10.9-.6a4.6 4.6 0 0 1 .5 9.1z" fill="#fff"/>
<path d="M8.2 26.7l-1.2 3.4M14.1 24.4l-1.4 2.7"/>
</svg>
<div class="t" style="left:85.40px;top:40.65px;font-size:37.0px;line-height:46.25px;color:#3b3e46;font-weight:700;letter-spacing:-0.5px;transform:scaleX(1.0756);transform-origin:0 0;background:linear-gradient(90deg,#10167a 0.0%,#10167a 0.1%,#10167a 6.1%,#1565c8 55.0%,#1b8cf6 88.0%,#1b8cf6 99.9%,#1b8cf6 100.0%);-webkit-background-clip:text;background-clip:text;color:transparent;-webkit-text-fill-color:transparent;">Impactos nas exportações de açúcar</div>
<div class="t" style="left:50.20px;top:110.98px;font-size:20.4px;line-height:25.5px;color:#13186e;font-weight:700;letter-spacing:-0.3px;transform:scaleX(1.0906);transform-origin:0 0;">Preços de etanol superam açúcar para exportação</div>
<svg class="abs" style="left:0;top:0" width="1064" height="598.5" viewBox="0 0 1064 598.5" font-family="Liberation Sans, sans-serif"><path d="M520.7 429.7H1016.0" stroke="#e0e0e4" stroke-width="1.1"/><path d="M520.7 405.8H1016.0" stroke="#efeff2" stroke-width="1.1"/><path d="M520.7 382.0H1016.0" stroke="#efeff2" stroke-width="1.1"/><path d="M520.7 358.1H1016.0" stroke="#efeff2" stroke-width="1.1"/><path d="M520.7 334.3H1016.0" stroke="#efeff2" stroke-width="1.1"/><path d="M520.7 310.4H1016.0" stroke="#efeff2" stroke-width="1.1"/><path d="M520.7 286.5H1016.0" stroke="#efeff2" stroke-width="1.1"/><path d="M520.7 262.7H1016.0" stroke="#efeff2" stroke-width="1.1"/><path d="M520.7 238.8H1016.0" stroke="#efeff2" stroke-width="1.1"/><path d="M520.7 215.0H1016.0" stroke="#efeff2" stroke-width="1.1"/><path d="M520.7 191.1H1016.0" stroke="#efeff2" stroke-width="1.1"/><path d="M520.7 167.2H1016.0" stroke="#efeff2" stroke-width="1.1"/><text x="620.7" y="292.1" font-family="Liberation Serif, serif" font-weight="700" font-size="54.5" fill="#e6e6e9" textLength="172" lengthAdjust="spacingAndGlyphs">StoneX</text><text x="620.7" y="336.6" font-size="29.2" fill="#e9e9ec" textLength="294.7" lengthAdjust="spacingAndGlyphs">Inteligência de Mercado</text><polyline points="520.7,271.7 525.2,272.8 529.6,273.9 533.4,272.3 537.7,272.8 541.0,275.5 545.3,276.1 549.6,274.4 554.0,273.3 558.3,273.9 561.6,271.7 565.9,271.7 570.2,271.2 574.6,271.0 578.9,269.2 582.7,271.4 586.5,269.0 590.3,271.0 593.0,274.6 595.7,277.9 599.0,277.1 602.8,274.4 606.6,272.3 610.4,269.9 614.2,271.2 618.0,274.4 621.8,276.4 625.6,277.1 630.5,276.1 634.8,275.5 638.6,275.0 641.9,272.8 645.1,272.3 649.4,273.9 653.2,276.1 656.0,279.3 659.8,278.2 664.1,277.1 667.9,276.1 672.2,275.3 676.0,274.2 679.3,274.4 682.5,270.6 685.8,268.5 689.8,269.5 693.6,271.2 697.9,270.6 701.7,271.7 703.9,275.0 707.7,276.6 711.0,275.7 714.7,274.2 719.1,276.1 722.9,277.1 726.7,279.3 730.5,281.5 734.3,280.9 738.1,282.0 741.9,283.7 746.2,284.2 750.0,287.5 753.3,288.5 757.1,286.9 761.4,287.7 765.7,288.0 769.0,288.5 772.8,292.3 776.0,295.6 779.8,297.2 783.6,296.1 786.9,294.5 790.7,293.4 793.4,292.9 796.7,290.7 800.5,292.3 804.8,292.7 808.6,289.6 812.4,288.0 816.2,290.2 820.0,292.9 823.8,291.8 827.6,289.6 831.4,291.8 835.2,290.7 839.5,289.8 843.9,289.8 848.2,289.8 852.0,292.3 856.0,290.9 860.3,290.2 864.7,290.2 869.0,290.9 873.4,289.8 877.2,292.3 881.0,293.7 884.7,292.3 889.6,292.9 894.0,293.4 898.3,293.7 902.7,293.4 907.0,293.7 911.3,293.7 915.7,293.4 920.0,294.0 924.3,293.4 928.7,293.4 933.0,293.1 937.4,293.1 941.7,293.1 946.6,292.9 950.9,292.9 955.3,293.1 959.6,293.7 964.0,294.0 968.3,294.2 972.6,294.0 977.0,294.2 981.3,294.5 985.6,294.5 990.0,294.8 994.3,295.0 999.2,295.6 1003.6,295.9 1007.9,295.9 1012.8,295.9" fill="none" stroke="#b4388c" stroke-width="1.9" stroke-linecap="round" stroke-linejoin="round" stroke-dasharray="0.01 3.9"/><polyline points="520.7,294.2 525.2,295.6 529.6,296.1 533.4,294.5 537.7,295.6 541.5,298.5 545.3,298.3 549.6,296.7 554.0,296.1 558.3,295.9 562.1,294.0 566.4,294.0 570.8,293.4 575.1,293.1 579.5,292.7 583.8,293.7 587.6,292.0 590.9,294.5 594.1,297.8 597.4,300.5 600.6,298.3 604.4,295.6 608.2,294.0 612.0,293.1 615.8,294.5 619.6,297.2 623.4,299.2 627.7,299.2 632.1,298.3 636.4,298.3 639.7,297.0 643.5,294.2 647.3,295.6 651.6,297.0 655.4,299.4 658.7,301.0 662.5,299.9 666.3,298.8 670.6,298.5 673.9,295.0 677.1,293.4 680.4,292.3 683.6,289.6 687.4,286.9 690.9,289.6 695.2,289.8 699.6,289.8 702.3,292.3 705.0,295.6 708.8,294.5 712.6,293.4 716.9,294.2 721.3,295.9 725.1,296.3 727.8,299.2 732.1,299.2 736.4,300.5 740.2,301.6 744.6,302.4 748.9,304.3 752.2,306.4 756.0,305.7 759.8,305.7 764.1,305.9 768.5,305.9 771.7,308.6 775.0,311.9 778.8,314.0 782.6,314.0 785.8,312.4 789.6,310.8 793.4,311.3 797.2,310.8 801.0,311.3 805.3,310.8 809.1,308.1 812.9,307.8 816.7,309.7 820.0,311.9 823.8,310.8 828.1,309.2 831.9,311.1 836.3,310.2 839.5,308.6 843.9,308.9 848.2,309.2 852.5,311.3 856.0,310.0 860.3,309.2 864.7,309.7 869.6,310.2 873.9,309.7 878.2,311.3 882.6,312.2 886.4,311.3 890.7,312.4 895.1,312.6 899.9,312.9 904.3,312.9 908.6,313.3 913.0,313.3 917.3,313.3 921.6,313.3 926.0,312.9 930.3,312.4 934.7,312.6 939.0,312.4 943.9,311.9 948.2,311.5 952.6,311.9 956.9,312.4 961.2,313.3 965.6,313.5 969.9,313.5 974.3,313.3 978.6,313.5 982.9,313.5 987.8,313.7 992.2,314.0 996.5,314.4 1000.8,314.4 1005.2,314.6 1009.5,314.8 1013.9,314.4" fill="none" stroke="#f21c1c" stroke-width="1.9" stroke-linecap="round" stroke-linejoin="round" stroke-dasharray="0.01 3.9"/><polyline points="520.7,347.3 525.2,348.0 529.6,348.4 533.4,347.3 537.7,348.0 542.0,350.4 546.4,350.2 550.7,348.8 555.1,348.2 558.9,348.0 563.2,347.1 567.5,346.9 571.9,346.6 576.2,345.5 580.6,346.0 584.9,345.8 588.7,345.0 592.5,347.7 595.7,351.2 599.0,350.6 603.3,348.8 607.7,347.7 611.5,346.3 615.3,346.9 619.1,349.3 622.9,350.6 627.7,350.9 632.1,350.4 636.4,350.4 640.8,348.8 644.0,347.3 647.8,348.2 652.2,349.8 656.0,352.3 659.8,351.5 664.1,350.9 668.4,350.4 672.2,348.8 676.0,347.7 679.8,346.6 683.6,343.9 687.1,342.2 690.9,345.0 695.2,344.4 699.6,344.4 702.8,347.3 706.6,349.3 710.4,348.4 714.7,347.3 719.1,348.4 723.4,349.5 727.2,351.5 731.0,352.0 735.4,352.3 739.2,353.6 743.5,354.7 747.8,355.3 751.1,357.4 755.4,357.1 759.8,357.1 764.1,357.1 768.5,357.1 772.0,359.8 775.3,362.5 779.6,363.6 783.6,363.4 786.9,361.8 790.7,361.2 794.0,359.1 796.7,355.8 799.9,355.8 804.3,356.0 808.1,353.6 812.2,352.8 816.2,354.2 820.0,356.3 823.8,355.3 828.1,354.2 831.9,355.3 836.3,354.2 840.6,354.2 844.9,353.6 849.3,354.2 853.4,356.0 857.1,355.3 862.0,354.2 866.3,354.2 870.6,354.5 875.0,354.5 879.3,356.3 883.7,356.0 888.0,356.0 892.3,356.7 896.7,356.9 901.0,356.9 904.8,356.3 905.9,351.5 906.4,347.7 907.5,343.3 908.4,338.4 909.2,335.0 913.5,334.6 917.8,334.3 922.2,334.3 927.1,334.1 931.4,333.9 935.7,333.9 940.1,333.6 944.4,333.2 948.8,332.8 953.1,333.9 957.4,334.6 961.8,335.0 966.1,335.0 970.5,335.2 974.8,334.1 979.1,334.6 983.5,335.0 987.8,335.2 992.7,335.2 997.0,335.4 1001.4,335.7 1005.7,336.3 1010.1,336.1 1014.9,335.4" fill="none" stroke="#f7a02c" stroke-width="1.9" stroke-linecap="round" stroke-linejoin="round" stroke-dasharray="0.01 3.9"/><polyline points="520.7,310.5 525.2,311.9 530.1,314.4 532.3,314.0 535.0,316.7 537.7,317.8 542.6,321.6 546.9,321.6 549.6,320.2 554.0,320.9 558.3,321.1 561.0,320.5 565.9,322.4 571.3,322.2 577.3,320.5 582.2,322.4 587.1,320.5 591.4,323.5 597.4,326.3 604.4,322.0 607.1,321.6 610.4,320.0 614.2,320.5 619.1,323.8 624.0,325.6 629.9,324.9 632.6,320.0 635.3,318.4 637.5,308.6 640.2,307.5 642.4,297.8 647.8,297.4 651.6,301.6 654.3,301.0 656.5,303.2 659.2,303.5 662.5,305.0 666.3,305.9 671.7,311.1 677.1,314.6 683.1,309.2 686.9,308.3 692.0,312.4 701.2,312.2 703.9,318.9 706.6,320.5 710.4,319.5 715.8,315.7 720.2,315.7 724.5,314.6 727.8,320.5 733.2,320.0 737.5,321.1 743.5,323.3 747.3,323.3 750.6,326.5 755.4,326.5 757.1,316.7 758.7,306.4 760.3,305.9 764.7,308.1 769.0,307.5 772.3,311.3 776.6,314.0 780.4,314.8 784.2,313.5 788.0,310.8 791.8,312.2 797.2,311.9 799.9,316.7 802.1,318.9 804.8,317.8 811.3,317.8 815.6,320.5 820.0,323.8 822.7,324.9 826.5,323.8 829.8,321.6 833.0,320.5 835.7,316.7 838.4,308.6 842.8,309.2 848.2,309.2 851.5,310.8 855.5,308.9 858.7,307.8 862.0,305.7 864.1,305.4 866.8,306.4 869.6,308.1 872.3,306.4 875.0,307.0 878.2,308.3 881.0,308.3 883.4,302.6 885.8,304.8 888.5,301.6 890.2,301.0 892.9,298.8 896.7,299.4 899.4,297.8 902.1,295.3 904.3,289.6 907.0,284.2 909.2,286.4 911.7,286.1 914.0,289.6 916.8,289.8 919.5,294.0 922.7,298.8 926.0,299.9 928.7,300.5 930.9,298.8 933.6,299.2 936.8,298.3 939.0,299.9 941.7,302.1 944.4,301.8 947.1,303.2 950.9,302.4 955.3,302.4 959.1,302.6 961.8,301.0 965.0,297.2 968.3,297.0 972.1,296.1 974.8,297.8 977.5,298.3 980.2,299.9 983.5,301.0 986.5,299.9 988.9,302.1 991.6,304.3 996.0,303.2 998.1,298.8 1000.3,298.1 1003.0,299.4 1005.2,300.5 1007.9,302.6 1010.6,303.2 1012.8,304.3 1014.9,302.6 1016.0,301.6" fill="none" stroke="#0c8c0c" stroke-width="2.4" stroke-linejoin="round"/><polyline points="520.7,401.9 523.4,406.8 527.4,397.0 530.1,393.2 532.3,382.4 535.0,380.8 537.2,374.8 539.9,374.5 544.2,372.3 546.6,366.9 549.1,371.0 551.5,375.3 553.4,375.5 556.1,377.7 558.3,374.2 561.0,363.4 563.2,360.1 565.4,358.2 567.7,356.9 570.2,361.4 572.4,356.9 575.1,352.5 577.3,346.0 579.5,332.8 581.6,353.6 583.8,357.4 586.5,358.7 588.7,365.6 591.2,372.9 593.6,367.7 596.3,356.9 598.5,348.2 600.6,342.2 602.8,342.8 605.0,339.3 607.7,339.3 609.8,345.8 611.5,339.5 614.2,339.3 616.9,348.2 619.1,349.3 621.2,339.5 624.0,338.4 626.1,344.1 628.8,339.0 631.5,330.8 633.7,331.4 635.9,318.9 638.1,312.4 640.2,313.5 642.4,312.9 645.1,317.8 647.8,320.2 650.5,320.0 653.2,314.6 654.9,311.9 657.0,311.3 658.9,322.2 661.4,316.7 664.1,317.3 666.3,312.4 668.4,310.8 671.1,315.7 673.0,325.4 674.9,316.7 677.1,317.3 679.8,322.2 682.5,323.8 684.7,329.8 686.9,332.5 689.3,325.4 692.0,329.2 694.7,331.9 701.2,331.9 703.9,326.0 706.6,320.0 708.2,325.4 711.5,317.8 714.7,312.4 717.5,308.3 720.2,315.1 722.9,321.1 725.1,326.0 727.2,326.0 729.4,312.2 733.2,316.7 736.4,322.2 739.7,327.6 743.0,331.9 747.3,332.5 750.0,324.3 755.4,324.3 757.1,330.8 760.3,333.6 763.0,333.9 765.7,333.6 767.9,332.8 771.2,332.5 774.4,330.3 776.0,333.0 778.2,326.0 780.4,329.2 783.1,340.1 786.4,325.4 789.6,309.2 792.3,315.1 795.6,316.5 798.3,314.6 801.5,302.4 804.3,305.9 807.0,316.2 810.2,314.0 813.5,308.1 816.2,292.9 817.8,297.8 821.1,293.4 823.2,294.5 826.0,299.4 828.1,301.0 830.0,303.7 832.5,299.9 834.6,292.9 836.3,279.9 837.9,269.0 839.5,261.4 841.1,256.5 842.6,246.2 844.1,234.8 846.0,246.8 848.2,237.5 850.9,240.3 853.6,244.1 856.0,251.1 858.2,252.7 860.3,241.3 862.5,245.1 864.7,272.3 867.4,270.6 869.6,266.8 872.3,259.8 874.4,257.3 876.9,262.5 880.4,262.7 883.7,263.4 885.8,243.8 888.5,241.3 890.4,229.7 892.9,227.8 895.1,234.3 897.8,234.8 899.9,231.0 902.3,224.3 904.3,223.2 907.0,223.7 909.2,219.3 911.7,224.5 914.0,223.2 916.2,235.4 918.4,261.4 920.6,278.8 922.9,299.9 927.1,299.9 929.8,292.9 932.3,280.9 934.9,262.0 937.4,265.2 939.9,265.8 942.0,273.9 945.0,278.2 947.1,281.2 949.1,298.3 951.5,287.5 956.4,288.3 958.3,283.1 960.7,292.3 962.9,313.7 966.7,315.1 969.9,315.7 972.4,328.1 974.8,329.8 977.5,329.5 979.7,322.4 981.9,321.1 984.0,323.3 986.7,314.0 988.9,305.9 991.1,315.7 993.2,317.3 995.6,328.9 998.1,326.7 1000.3,331.1 1003.0,333.0 1005.2,336.3 1007.9,316.7 1010.1,319.5 1012.2,325.4 1014.9,301.6" fill="none" stroke="#0e1477" stroke-width="2.2" stroke-linejoin="round"/><text x="508.4" y="433.6" font-size="13.3" fill="#1c1c1e" text-anchor="end">10</text><text x="508.4" y="409.7" font-size="13.3" fill="#1c1c1e" text-anchor="end">12</text><text x="508.4" y="385.9" font-size="13.3" fill="#1c1c1e" text-anchor="end">14</text><text x="508.4" y="362.0" font-size="13.3" fill="#1c1c1e" text-anchor="end">16</text><text x="508.4" y="338.1" font-size="13.3" fill="#1c1c1e" text-anchor="end">18</text><text x="508.4" y="314.3" font-size="13.3" fill="#1c1c1e" text-anchor="end">20</text><text x="508.4" y="290.4" font-size="13.3" fill="#1c1c1e" text-anchor="end">22</text><text x="508.4" y="266.6" font-size="13.3" fill="#1c1c1e" text-anchor="end">24</text><text x="508.4" y="242.7" font-size="13.3" fill="#1c1c1e" text-anchor="end">26</text><text x="508.4" y="218.8" font-size="13.3" fill="#1c1c1e" text-anchor="end">28</text><text x="508.4" y="195.0" font-size="13.3" fill="#1c1c1e" text-anchor="end">30</text><text x="508.4" y="171.1" font-size="13.3" fill="#1c1c1e" text-anchor="end">32</text><text transform="translate(527.7 439.6) rotate(-90)" font-size="13.0" fill="#1c1c1e" stroke="#1c1c1e" stroke-width="0.28" text-anchor="end" letter-spacing="0.35">set-20</text><text transform="translate(548.0 439.6) rotate(-90)" font-size="13.0" fill="#1c1c1e" stroke="#1c1c1e" stroke-width="0.28" text-anchor="end" letter-spacing="0.35">nov-20</text><text transform="translate(568.4 439.6) rotate(-90)" font-size="13.0" fill="#1c1c1e" stroke="#1c1c1e" stroke-width="0.28" text-anchor="end" letter-spacing="0.35">jan-21</text><text transform="translate(588.7 439.6) rotate(-90)" font-size="13.0" fill="#1c1c1e" stroke="#1c1c1e" stroke-width="0.28" text-anchor="end" letter-spacing="0.35">mar-21</text><text transform="translate(609.1 439.6) rotate(-90)" font-size="13.0" fill="#1c1c1e" stroke="#1c1c1e" stroke-width="0.28" text-anchor="end" letter-spacing="0.35">mai-21</text><text transform="translate(629.4 439.6) rotate(-90)" font-size="13.0" fill="#1c1c1e" stroke="#1c1c1e" stroke-width="0.28" text-anchor="end" letter-spacing="0.35">jul-21</text><text transform="translate(649.7 439.6) rotate(-90)" font-size="13.0" fill="#1c1c1e" stroke="#1c1c1e" stroke-width="0.28" text-anchor="end" letter-spacing="0.35">set-21</text><text transform="translate(670.1 439.6) rotate(-90)" font-size="13.0" fill="#1c1c1e" stroke="#1c1c1e" stroke-width="0.28" text-anchor="end" letter-spacing="0.35">nov-21</text><text transform="translate(690.4 439.6) rotate(-90)" font-size="13.0" fill="#1c1c1e" stroke="#1c1c1e" stroke-width="0.28" text-anchor="end" letter-spacing="0.35">jan-22</text><text transform="translate(710.8 439.6) rotate(-90)" font-size="13.0" fill="#1c1c1e" stroke="#1c1c1e" stroke-width="0.28" text-anchor="end" letter-spacing="0.35">mar-22</text><text transform="translate(731.1 439.6) rotate(-90)" font-size="13.0" fill="#1c1c1e" stroke="#1c1c1e" stroke-width="0.28" text-anchor="end" letter-spacing="0.35">mai-22</text><text transform="translate(751.4 439.6) rotate(-90)" font-size="13.0" fill="#1c1c1e" stroke="#1c1c1e" stroke-width="0.28" text-anchor="end" letter-spacing="0.35">jul-22</text><text transform="translate(771.8 439.6) rotate(-90)" font-size="13.0" fill="#1c1c1e" stroke="#1c1c1e" stroke-width="0.28" text-anchor="end" letter-spacing="0.35">set-22</text><text transform="translate(792.1 439.6) rotate(-90)" font-size="13.0" fill="#1c1c1e" stroke="#1c1c1e" stroke-width="0.28" text-anchor="end" letter-spacing="0.35">nov-22</text><text transform="translate(812.5 439.6) rotate(-90)" font-size="13.0" fill="#1c1c1e" stroke="#1c1c1e" stroke-width="0.28" text-anchor="end" letter-spacing="0.35">jan-23</text><text transform="translate(832.8 439.6) rotate(-90)" font-size="13.0" fill="#1c1c1e" stroke="#1c1c1e" stroke-width="0.28" text-anchor="end" letter-spacing="0.35">mar-23</text><text transform="translate(853.1 439.6) rotate(-90)" font-size="13.0" fill="#1c1c1e" stroke="#1c1c1e" stroke-width="0.28" text-anchor="end" letter-spacing="0.35">mai-23</text><text transform="translate(873.5 439.6) rotate(-90)" font-size="13.0" fill="#1c1c1e" stroke="#1c1c1e" stroke-width="0.28" text-anchor="end" letter-spacing="0.35">jul-23</text><text transform="translate(893.8 439.6) rotate(-90)" font-size="13.0" fill="#1c1c1e" stroke="#1c1c1e" stroke-width="0.28" text-anchor="end" letter-spacing="0.35">set-23</text><text transform="translate(914.2 439.6) rotate(-90)" font-size="13.0" fill="#1c1c1e" stroke="#1c1c1e" stroke-width="0.28" text-anchor="end" letter-spacing="0.35">nov-23</text><text transform="translate(934.5 439.6) rotate(-90)" font-size="13.0" fill="#1c1c1e" stroke="#1c1c1e" stroke-width="0.28" text-anchor="end" letter-spacing="0.35">jan-24</text><text transform="translate(954.8 439.6) rotate(-90)" font-size="13.0" fill="#1c1c1e" stroke="#1c1c1e" stroke-width="0.28" text-anchor="end" letter-spacing="0.35">mar-24</text><text transform="translate(975.2 439.6) rotate(-90)" font-size="13.0" fill="#1c1c1e" stroke="#1c1c1e" stroke-width="0.28" text-anchor="end" letter-spacing="0.35">mai-24</text><text transform="translate(995.5 439.6) rotate(-90)" font-size="13.0" fill="#1c1c1e" stroke="#1c1c1e" stroke-width="0.28" text-anchor="end" letter-spacing="0.35">jul-24</text><text transform="translate(1015.9 439.6) rotate(-90)" font-size="13.0" fill="#1c1c1e" stroke="#1c1c1e" stroke-width="0.28" text-anchor="end" letter-spacing="0.35">set-24</text><path d="M529.3 178.1H558.5999999999999" stroke="#0e1477" stroke-width="2.3"/><text x="560.6999999999999" y="182.7" font-size="13" fill="#1c1c1e" textLength="38.5" lengthAdjust="spacingAndGlyphs">NY#11</text><path d="M697.4 178.1H726.6999999999999" stroke="#0c8c0c" stroke-width="2.3"/><text x="728.8" y="182.7" font-size="13" fill="#1c1c1e" textLength="103.9" lengthAdjust="spacingAndGlyphs">Açúcar Kolhapur</text><path d="M865.9 178.1H895.1999999999999" stroke="#f7a02c" stroke-width="1.9" stroke-linecap="round" stroke-dasharray="0.01 3.9"/><text x="897.3" y="182.7" font-size="13" fill="#1c1c1e" textLength="87.9" lengthAdjust="spacingAndGlyphs">Etanol (Mel C)</text><path d="M529.3 202.2H558.5999999999999" stroke="#f21c1c" stroke-width="1.9" stroke-linecap="round" stroke-dasharray="0.01 3.9"/><text x="560.6999999999999" y="206.79999999999998" font-size="13" fill="#1c1c1e" textLength="87.2" lengthAdjust="spacingAndGlyphs">Etanol (Mel B)</text><path d="M697.4 202.2H726.6999999999999" stroke="#b4388c" stroke-width="1.9" stroke-linecap="round" stroke-dasharray="0.01 3.9"/><text x="728.8" y="206.79999999999998" font-size="13" fill="#1c1c1e" textLength="87.5" lengthAdjust="spacingAndGlyphs">Etanol (Caldo)</text></svg>
<div class="t" style="left:50.40px;top:159.90px;font-size:14.0px;line-height:17.5px;color:#3b3e46;letter-spacing:-0.2px;transform:scaleX(1.0113);transform-origin:0 0;-webkit-text-stroke:0.22px #3b3e46;">Como evidenciado, a demanda por açúcar e sacarose na Índia</div>
<div class="t" style="left:50.40px;top:177.20px;font-size:14.0px;line-height:17.5px;color:#3b3e46;letter-spacing:-0.2px;transform:scaleX(0.9942);transform-origin:0 0;-webkit-text-stroke:0.22px #3b3e46;">tende a ser elevada. O NITI Aayong, órgão de pesquisa ligado ao</div>
<div class="t" style="left:50.40px;top:194.50px;font-size:14.0px;line-height:17.5px;color:#3b3e46;letter-spacing:-0.2px;transform:scaleX(1.0097);transform-origin:0 0;-webkit-text-stroke:0.22px #3b3e46;">Governo da Índia, publicou em fevereiro deste ano um estudo</div>
<div class="t" style="left:50.40px;top:211.80px;font-size:14.0px;line-height:17.5px;color:#3b3e46;letter-spacing:-0.2px;transform:scaleX(1.0233);transform-origin:0 0;-webkit-text-stroke:0.22px #3b3e46;">sobre demanda interna por diversas commodities no longo prazo.</div>
<div class="t" style="left:50.40px;top:242.60px;font-size:14.0px;line-height:17.5px;color:#3b3e46;letter-spacing:-0.2px;transform:scaleX(1.0129);transform-origin:0 0;-webkit-text-stroke:0.22px #3b3e46;">Para o açúcar e os produtos (inclui consumo humano e</div>
<div class="t" style="left:50.40px;top:259.90px;font-size:14.0px;line-height:17.5px;color:#3b3e46;letter-spacing:-0.2px;-webkit-text-stroke:0.22px #3b3e46;">combustíveis) é esperado que, em 2030-31, a demanda total</div>
<div class="t" style="left:50.40px;top:277.20px;font-size:14.0px;line-height:17.5px;color:#3b3e46;letter-spacing:-0.2px;transform:scaleX(1.0111);transform-origin:0 0;-webkit-text-stroke:0.22px #3b3e46;">alcance 39-40 MMt, número que faz sentido perante a análise</div>
<div class="t" style="left:50.40px;top:294.50px;font-size:14.0px;line-height:17.5px;color:#3b3e46;letter-spacing:-0.2px;transform:scaleX(1.0284);transform-origin:0 0;-webkit-text-stroke:0.22px #3b3e46;">trazida de tendência do consumo doméstico do adoçante e</div>
<div class="t" style="left:50.40px;top:311.80px;font-size:14.0px;line-height:17.5px;color:#3b3e46;letter-spacing:-0.2px;transform:scaleX(1.0091);transform-origin:0 0;-webkit-text-stroke:0.22px #3b3e46;">potencial uso para etanol com o E30.</div>
<div class="t" style="left:50.40px;top:342.60px;font-size:14.0px;line-height:17.5px;color:#3b3e46;letter-spacing:-0.2px;transform:scaleX(1.0237);transform-origin:0 0;-webkit-text-stroke:0.22px #3b3e46;">Os impactos desse cenário já modificam, estruturalmente, a</div>
<div class="t" style="left:50.40px;top:359.90px;font-size:14.0px;line-height:17.5px;color:#3b3e46;letter-spacing:-0.2px;-webkit-text-stroke:0.22px #3b3e46;">dinâmica do mercado de açúcar, uma vez que, desde 2022, o</div>
<div class="t" style="left:50.40px;top:377.20px;font-size:14.0px;line-height:17.5px;color:#3b3e46;letter-spacing:-0.2px;transform:scaleX(1.0304);transform-origin:0 0;-webkit-text-stroke:0.22px #3b3e46;">governo indiano vem interferindo nas exportações da commodity</div>
<div class="t" style="left:50.40px;top:394.50px;font-size:14.0px;line-height:17.5px;color:#3b3e46;letter-spacing:-0.2px;transform:scaleX(0.9831);transform-origin:0 0;-webkit-text-stroke:0.22px #3b3e46;">– naquele ano, limitando os embarques em 11,0 MMt, que já foram</div>
<div class="t" style="left:50.40px;top:411.80px;font-size:14.0px;line-height:17.5px;color:#3b3e46;letter-spacing:-0.2px;-webkit-text-stroke:0.22px #3b3e46;">recordes, na temporada seguinte, limitando em 6,2 MMt e, já em</div>
<div class="t" style="left:50.40px;top:429.10px;font-size:14.0px;line-height:17.5px;color:#3b3e46;letter-spacing:-0.2px;transform:scaleX(1.0145);transform-origin:0 0;-webkit-text-stroke:0.22px #3b3e46;">2023/24, proibindo qualquer volume de exportação.</div>
<div class="t" style="left:50.40px;top:459.90px;font-size:14.0px;line-height:17.5px;color:#3b3e46;letter-spacing:-0.2px;transform:scaleX(1.0328);transform-origin:0 0;-webkit-text-stroke:0.22px #3b3e46;">Essas medidas foram se somaram aos fatores altistas dos preços</div>
<div class="t" style="left:50.40px;top:477.20px;font-size:14.0px;line-height:17.5px;color:#3b3e46;letter-spacing:-0.2px;transform:scaleX(1.0071);transform-origin:0 0;-webkit-text-stroke:0.22px #3b3e46;">nos últimos dois anos e, hoje, mesmo com estoques mais</div>
<div class="t" style="left:50.40px;top:494.50px;font-size:14.0px;line-height:17.5px;color:#3b3e46;letter-spacing:-0.2px;transform:scaleX(1.0164);transform-origin:0 0;-webkit-text-stroke:0.22px #3b3e46;">folgados, a Índia segue com a paridade de exportação fechada,</div>
<div class="t" style="left:50.40px;top:511.80px;font-size:14.0px;line-height:17.5px;color:#3b3e46;letter-spacing:-0.2px;transform:scaleX(1.0273);transform-origin:0 0;-webkit-text-stroke:0.22px #3b3e46;">outro desincentivo para liberar esses embarques no curto prazo.</div>
<div class="t" style="left:490.70px;top:496.42px;font-size:14.8px;line-height:18.5px;color:#1c86f2;font-weight:700;letter-spacing:-0.2px;transform:scaleX(1.0239);transform-origin:0 0;-webkit-text-stroke:0.25px #1c86f2;">Paridade dos produtos da cana na Índia* (US¢/lb)</div>
<div class="t" style="left:490.70px;top:517.41px;font-size:10.9px;line-height:13.62px;color:#97a6c6;letter-spacing:-0.1px;transform:scaleX(1.0757);transform-origin:0 0;">*Preço para exportação com base em Kolhapur – Maharashtra. Fontes: cmdtyView, ICE e StoneX.</div>
<div class="abs" style="left:306.4px;top:574.4px;width:676.5px;height:1px;background:linear-gradient(90deg,#1b2a86,#2f8cf0)"></div>
<div class="abs" style="left:1017.4px;top:574.4px;width:46.6px;height:1px;background:#3f95f0"></div>
<div class="t" style="left:50.60px;top:562.24px;font-size:19.6px;line-height:24.5px;color:#25262b;font-weight:700;font-family:'Liberation Serif',serif;transform:scaleX(1.0169);transform-origin:0 0;">StoneX</div>
<div class="t" style="left:113.20px;top:562.84px;font-size:9px;line-height:11.25px;color:#25262b;font-weight:700;font-family:'Liberation Serif',serif;">·</div>
<div class="t" style="left:118.70px;top:564.39px;font-size:17.2px;line-height:21.5px;color:#2e3036;letter-spacing:-0.3px;transform:scaleX(1.0046);transform-origin:0 0;">Inteligência de Mercado</div>
<div class="t" style="left:994.30px;top:567.66px;font-size:12.6px;line-height:15.75px;color:#3a92f2;transform:scaleX(0.9418);transform-origin:0 0;">26</div></div></div>
<div class="slide" style="left:402.8px;top:1814.6px;width:1064px;height:598.7px"><div class="inner" style="top:0.0px"><svg class="abs" style="left:0;top:0" width="1064" height="598.5" viewBox="0 0 1064 598.5">
<defs><linearGradient id="xg4" gradientUnits="userSpaceOnUse" x1="450" y1="0" x2="1064" y2="0"><stop offset="0" stop-color="#fbfcfe"/><stop offset="1" stop-color="#f4f5fa"/></linearGradient></defs>
<path fill="url(#xg4)" d="M452 0H738V5.5Q690 8 662 50L1009 568Q1022 590 1064 593V598.5H795V593Q846 588 853 540L519 10Q512 6 452 5.5ZM842 0H1064V5.5Q1020 12 1000 40Q960 85 921 119L800 278L780 250L789.8 243.3L925 55Q935 10 842 5.5ZM750 340L732 348.5L682 420L596 547Q592 588 717 593V598.5H440V593Q505 590 536 547L646 420L719 327Z"/></svg>
<svg class="abs" style="left:48.5px;top:46.6px" width="31" height="33" viewBox="0 0 31 33" fill="none" stroke="#0e1477" stroke-width="1.7" stroke-linecap="round" stroke-linejoin="round">
<circle cx="18.6" cy="11.1" r="4.1"/>
<path d="M18.05 1.9V3.3M10.9 5.2l1.4 1.1M24.9 5l-1 1.2M26.2 11.2h2.2M24.1 16.7l1.1 1"/>
<path d="M5.8 23a4.3 4.3 0 0 1-.9-8.5a5.7 5.7 0 0 1 10.9-.6a4.6 4.6 0 0 1 .5 9.1z" fill="#fff"/>
<path d="M8.2 26.7l-1.2 3.4M14.1 24.4l-1.4 2.7"/>
</svg>
<div class="t" style="left:85.40px;top:40.65px;font-size:37.0px;line-height:46.25px;color:#3b3e46;font-weight:700;letter-spacing:-0.5px;transform:scaleX(1.0756);transform-origin:0 0;background:linear-gradient(90deg,#10167a 0.0%,#10167a 0.1%,#10167a 6.1%,#1565c8 55.0%,#1b8cf6 88.0%,#1b8cf6 99.9%,#1b8cf6 100.0%);-webkit-background-clip:text;background-clip:text;color:transparent;-webkit-text-fill-color:transparent;">Impactos nas exportações de açúcar</div>
<div class="t" style="left:50.20px;top:110.98px;font-size:20.4px;line-height:25.5px;color:#13186e;font-weight:700;letter-spacing:-0.3px;transform:scaleX(1.0739);transform-origin:0 0;">Exportações podem continuar zeradas pelo menos até o segundo semestre de 2025</div>
<svg class="abs" style="left:0;top:0" width="1064" height="598.5" viewBox="0 0 1064 598.5" font-family="Liberation Sans, sans-serif"><path d="M567.8 420.8H1016.9" stroke="#e0e0e4" stroke-width="1.1"/><path d="M567.8 378.6H1016.9" stroke="#efeff2" stroke-width="1.1"/><path d="M567.8 336.4H1016.9" stroke="#efeff2" stroke-width="1.1"/><path d="M567.8 294.1H1016.9" stroke="#efeff2" stroke-width="1.1"/><path d="M567.8 251.9H1016.9" stroke="#efeff2" stroke-width="1.1"/><path d="M567.8 209.7H1016.9" stroke="#efeff2" stroke-width="1.1"/><path d="M567.8 167.5H1016.9" stroke="#efeff2" stroke-width="1.1"/><text x="636.0" y="282.4" font-family="Liberation Serif, serif" font-weight="700" font-size="54.5" fill="#e6e6e9" textLength="172" lengthAdjust="spacingAndGlyphs">StoneX</text><text x="636.0" y="326.7" font-size="29.0" fill="#e9e9ec" textLength="290.6" lengthAdjust="spacingAndGlyphs">Inteligência de Mercado</text><rect x="571.7" y="376.0" width="27.5" height="44.8" fill="#0e1477"/><text transform="translate(588.1 438.6) rotate(-45)" font-size="13.4" fill="#1c1c1e" stroke="#1c1c1e" stroke-width="0.28" text-anchor="end">2013/14</text><rect x="606.2" y="398.0" width="27.5" height="22.8" fill="#0e1477"/><text transform="translate(622.6 438.6) rotate(-45)" font-size="13.4" fill="#1c1c1e" stroke="#1c1c1e" stroke-width="0.28" text-anchor="end">2014/15</text><rect x="640.7" y="386.0" width="27.5" height="34.8" fill="#0e1477"/><text transform="translate(657.1 438.6) rotate(-45)" font-size="13.4" fill="#1c1c1e" stroke="#1c1c1e" stroke-width="0.28" text-anchor="end">2015/16</text><rect x="675.2" y="419.7" width="27.5" height="1.2" fill="#0e1477"/><text transform="translate(691.6 438.6) rotate(-45)" font-size="13.4" fill="#1c1c1e" stroke="#1c1c1e" stroke-width="0.28" text-anchor="end">2016/17</text><rect x="709.7" y="411.7" width="27.5" height="9.1" fill="#0e1477"/><text transform="translate(726.1 438.6) rotate(-45)" font-size="13.4" fill="#1c1c1e" stroke="#1c1c1e" stroke-width="0.28" text-anchor="end">2017/18</text><rect x="744.2" y="341.0" width="27.5" height="79.8" fill="#0e1477"/><text transform="translate(760.6 438.6) rotate(-45)" font-size="13.4" fill="#1c1c1e" stroke="#1c1c1e" stroke-width="0.28" text-anchor="end">2018/19</text><rect x="778.7" y="295.4" width="27.5" height="125.4" fill="#0e1477"/><text transform="translate(795.1 438.6) rotate(-45)" font-size="13.4" fill="#1c1c1e" stroke="#1c1c1e" stroke-width="0.28" text-anchor="end">2019/20</text><rect x="813.2" y="269.4" width="27.5" height="151.4" fill="#0e1477"/><text transform="translate(829.6 438.6) rotate(-45)" font-size="13.4" fill="#1c1c1e" stroke="#1c1c1e" stroke-width="0.28" text-anchor="end">2020/21</text><rect x="847.7" y="187.3" width="27.5" height="233.5" fill="#0e1477"/><text transform="translate(864.1 438.6) rotate(-45)" font-size="13.4" fill="#1c1c1e" stroke="#1c1c1e" stroke-width="0.28" text-anchor="end">2021/22</text><rect x="882.2" y="286.1" width="27.5" height="134.7" fill="#0e1477"/><text transform="translate(898.6 438.6) rotate(-45)" font-size="13.4" fill="#1c1c1e" stroke="#1c1c1e" stroke-width="0.28" text-anchor="end">2022/23</text><text transform="translate(933.1 438.6) rotate(-45)" font-size="13.4" fill="#1c1c1e" stroke="#1c1c1e" stroke-width="0.28" text-anchor="end">2023/24*</text><rect x="951.2" y="419.1" width="27.5" height="1.7" fill="#1383f5"/><text transform="translate(967.6 438.6) rotate(-45)" font-size="13.4" fill="#1c1c1e" stroke="#1c1c1e" stroke-width="0.28" text-anchor="end">2024/25*</text><text transform="translate(1002.1 438.6) rotate(-45)" font-size="13.4" fill="#1c1c1e" stroke="#1c1c1e" stroke-width="0.28" text-anchor="end">2025/26*</text><text x="555.2" y="425.0" font-size="13.3" fill="#1c1c1e" text-anchor="end">0</text><text x="555.2" y="382.8" font-size="13.3" fill="#1c1c1e" text-anchor="end">2</text><text x="555.2" y="340.5" font-size="13.3" fill="#1c1c1e" text-anchor="end">4</text><text x="555.2" y="298.3" font-size="13.3" fill="#1c1c1e" text-anchor="end">6</text><text x="555.2" y="256.1" font-size="13.3" fill="#1c1c1e" text-anchor="end">8</text><text x="555.2" y="213.9" font-size="13.3" fill="#1c1c1e" text-anchor="end">10</text><text x="555.2" y="171.7" font-size="13.3" fill="#1c1c1e" text-anchor="end">12</text><text x="974.3" y="395.8" font-size="43" font-weight="700" fill="#1383f5" text-anchor="middle">?</text></svg>
<div class="t" style="left:50.40px;top:159.70px;font-size:14.0px;line-height:17.5px;color:#3b3e46;letter-spacing:-0.2px;transform:scaleX(1.0084);transform-origin:0 0;-webkit-text-stroke:0.22px #3b3e46;">No médio prazo, os preços domésticos (Kolhapur) operam em torno de US¢</div>
<div class="t" style="left:50.40px;top:177.00px;font-size:14.0px;line-height:17.5px;color:#3b3e46;letter-spacing:-0.2px;transform:scaleX(1.0127);transform-origin:0 0;-webkit-text-stroke:0.22px #3b3e46;">20,50/lb na paridade de exportação e, portanto, as cotações em NY abaixo</div>
<div class="t" style="left:50.40px;top:194.30px;font-size:14.0px;line-height:17.5px;color:#3b3e46;letter-spacing:-0.2px;transform:scaleX(1.0250);transform-origin:0 0;-webkit-text-stroke:0.22px #3b3e46;">desse patamar podem tornar as exportações indianas menos viáveis.</div>
<div class="t" style="left:50.40px;top:225.10px;font-size:14.0px;line-height:17.5px;color:#3b3e46;letter-spacing:-0.2px;-webkit-text-stroke:0.22px #3b3e46;">Por outro lado, as usinas vêm requisitando cotas entre 1,0 a 2,0 milhões de</div>
<div class="t" style="left:50.40px;top:242.40px;font-size:14.0px;line-height:17.5px;color:#3b3e46;letter-spacing:-0.2px;transform:scaleX(1.0267);transform-origin:0 0;-webkit-text-stroke:0.22px #3b3e46;">tons para serem embarcadas como uma forma de capitalização e diminuir</div>
<div class="t" style="left:50.40px;top:259.70px;font-size:14.0px;line-height:17.5px;color:#3b3e46;letter-spacing:-0.2px;transform:scaleX(1.0138);transform-origin:0 0;-webkit-text-stroke:0.22px #3b3e46;">os estoques, uma vez que os custos de carregamento são elevados –</div>
<div class="t" style="left:50.40px;top:277.00px;font-size:14.0px;line-height:17.5px;color:#3b3e46;letter-spacing:-0.2px;transform:scaleX(1.0198);transform-origin:0 0;-webkit-text-stroke:0.22px #3b3e46;">principalmente por período amplo de tempo.</div>
<div class="t" style="left:50.40px;top:307.80px;font-size:14.0px;line-height:17.5px;color:#3b3e46;letter-spacing:-0.2px;transform:scaleX(1.0103);transform-origin:0 0;-webkit-text-stroke:0.22px #3b3e46;">O Governo, por sua vez, parece continuar priorizando o consumo</div>
<div class="t" style="left:50.40px;top:325.10px;font-size:14.0px;line-height:17.5px;color:#3b3e46;letter-spacing:-0.2px;transform:scaleX(1.0222);transform-origin:0 0;-webkit-text-stroke:0.22px #3b3e46;">doméstico do açúcar branco e o programa de etanol, sendo pouco</div>
<div class="t" style="left:50.40px;top:342.40px;font-size:14.0px;line-height:17.5px;color:#3b3e46;letter-spacing:-0.2px;transform:scaleX(1.0263);transform-origin:0 0;-webkit-text-stroke:0.22px #3b3e46;">provável, contando ainda com preços menos atrativos, que exportações</div>
<div class="t" style="left:50.40px;top:359.70px;font-size:14.0px;line-height:17.5px;color:#3b3e46;letter-spacing:-0.2px;transform:scaleX(1.0232);transform-origin:0 0;-webkit-text-stroke:0.22px #3b3e46;">aconteçam. Forma-se portanto o consenso que, com exceção de cotas</div>
<div class="t" style="left:50.40px;top:377.00px;font-size:14.0px;line-height:17.5px;color:#3b3e46;letter-spacing:-0.2px;transform:scaleX(1.0146);transform-origin:0 0;-webkit-text-stroke:0.22px #3b3e46;">pontuais e de volumes limitados, como uma venda programada de 650 mil</div>
<div class="t" style="left:50.40px;top:394.30px;font-size:14.0px;line-height:17.5px;color:#3b3e46;letter-spacing:-0.2px;transform:scaleX(1.0166);transform-origin:0 0;-webkit-text-stroke:0.22px #3b3e46;">toneladas para as Maldivas, as vendas ao exterior serão zeradas em</div>
<div class="t" style="left:50.40px;top:411.60px;font-size:14.0px;line-height:17.5px;color:#3b3e46;letter-spacing:-0.2px;transform:scaleX(1.0052);transform-origin:0 0;-webkit-text-stroke:0.22px #3b3e46;">2024/25 (out-set) novamente.</div>
<div class="t" style="left:50.40px;top:442.40px;font-size:14.0px;line-height:17.5px;color:#3b3e46;letter-spacing:-0.2px;transform:scaleX(1.0053);transform-origin:0 0;-webkit-text-stroke:0.22px #3b3e46;">A depender, por exemplo, do andamento da safra na virada do ano, ante a</div>
<div class="t" style="left:50.40px;top:459.70px;font-size:14.0px;line-height:17.5px;color:#3b3e46;letter-spacing:-0.2px;transform:scaleX(1.0181);transform-origin:0 0;-webkit-text-stroke:0.22px #3b3e46;">situação atual de estoques e o andamento do programa de etanol, e caso</div>
<div class="t" style="left:50.40px;top:477.00px;font-size:14.0px;line-height:17.5px;color:#3b3e46;letter-spacing:-0.2px;transform:scaleX(1.0131);transform-origin:0 0;-webkit-text-stroke:0.22px #3b3e46;">haja quebra em colheitas importantes como no Brasil, há uma janela de</div>
<div class="t" style="left:50.40px;top:494.30px;font-size:14.0px;line-height:17.5px;color:#3b3e46;letter-spacing:-0.2px;transform:scaleX(1.0254);transform-origin:0 0;-webkit-text-stroke:0.22px #3b3e46;">oportunidade para a Índia repensar as exportações no segundo semestre</div>
<div class="t" style="left:50.40px;top:511.60px;font-size:14.0px;line-height:17.5px;color:#3b3e46;letter-spacing:-0.2px;transform:scaleX(1.0117);transform-origin:0 0;-webkit-text-stroke:0.22px #3b3e46;">de 2025, principalmente se as chuvas em nesse ano e o prognóstico para</div>
<div class="t" style="left:50.40px;top:528.90px;font-size:14.0px;line-height:17.5px;color:#3b3e46;letter-spacing:-0.2px;transform:scaleX(1.0301);transform-origin:0 0;-webkit-text-stroke:0.22px #3b3e46;">2025/26 forem favoráveis.</div>
<div class="t" style="left:540.20px;top:496.72px;font-size:14.8px;line-height:18.5px;color:#1c86f2;font-weight:700;letter-spacing:-0.2px;transform:scaleX(1.0272);transform-origin:0 0;-webkit-text-stroke:0.25px #1c86f2;">Exportações de açúcar pela Índia* (milhões de toneladas)</div>
<div class="t" style="left:540.20px;top:517.41px;font-size:10.9px;line-height:13.62px;color:#97a6c6;letter-spacing:-0.1px;transform:scaleX(1.0594);transform-origin:0 0;">*Estimativas StoneX. Fonte: ISMA. Elaboração: StoneX.</div>
<div class="abs" style="left:306.4px;top:574.4px;width:676.5px;height:1px;background:linear-gradient(90deg,#1b2a86,#2f8cf0)"></div>
<div class="abs" style="left:1017.4px;top:574.4px;width:46.6px;height:1px;background:#3f95f0"></div>
<div class="t" style="left:50.60px;top:562.24px;font-size:19.6px;line-height:24.5px;color:#25262b;font-weight:700;font-family:'Liberation Serif',serif;transform:scaleX(1.0169);transform-origin:0 0;">StoneX</div>
<div class="t" style="left:113.20px;top:562.84px;font-size:9px;line-height:11.25px;color:#25262b;font-weight:700;font-family:'Liberation Serif',serif;">·</div>
<div class="t" style="left:118.70px;top:564.39px;font-size:17.2px;line-height:21.5px;color:#2e3036;letter-spacing:-0.3px;transform:scaleX(1.0046);transform-origin:0 0;">Inteligência de Mercado</div>
<div class="t" style="left:994.30px;top:567.66px;font-size:12.6px;line-height:15.75px;color:#3a92f2;transform:scaleX(0.9418);transform-origin:0 0;">27</div></div></div>
<div class="abs" style="left:82px;top:2426.6px;width:1756px;height:1.4px;background:#111"></div>
<div class="t" style="left:161.80px;top:2460.03px;font-size:22.2px;line-height:27.75px;color:#0b0b0c;font-weight:700;transform:scaleX(1.1063);transform-origin:0 0;">Especial <span style="display:inline-block;transform:translateY(-1.2px) scaleY(1.32)">|</span> Acompanhamento e perspectivas do mercado de etanol na Índia</div>
<div class="t" style="left:1729.00px;top:2458.10px;font-size:24.4px;line-height:30.5px;color:#0b0b0c;transform:scaleX(1.1025);transform-origin:0 0;">7/7</div>
<div id="frame"></div></body></html>
